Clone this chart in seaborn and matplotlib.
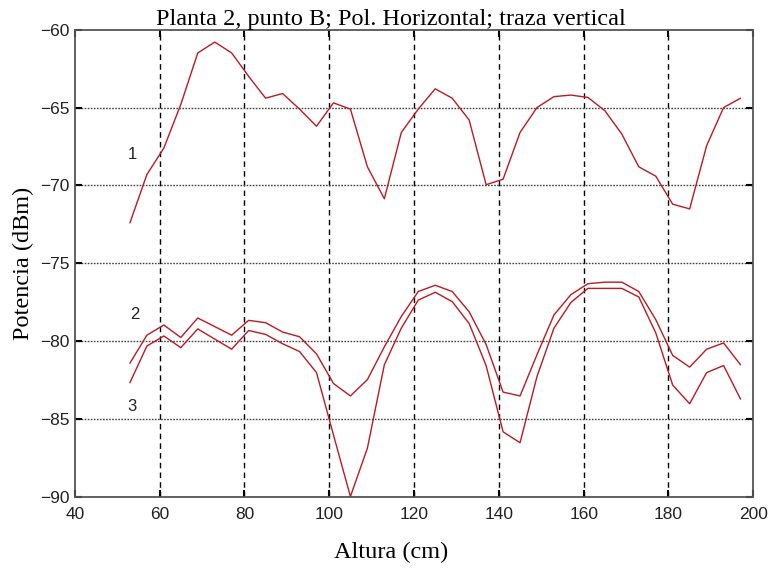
import numpy as np
import pandas as pd
import matplotlib
matplotlib.use("Agg")
import matplotlib.pyplot as plt
import seaborn as sns

# altura (cm)
altura = list(range(53, 198, 4))

traza_1 = [-72.4, -69.3, -67.6, -64.8, -61.5, -60.8, -61.5, -63.0, -64.4, -64.1,
           -65.1, -66.2, -64.7, -65.1, -68.8, -70.85, -66.6, -65.1, -63.8, -64.4,
           -65.8, -69.95, -69.6, -66.6, -65.0, -64.3, -64.2, -64.35, -65.2, -66.7,
           -68.8, -69.4, -71.2, -71.5, -67.45, -65.0, -64.4]

traza_2 = [-81.4, -79.6, -78.95, -79.75, -78.5, -79.05, -79.6, -78.65, -78.8, -79.4,
           -79.7, -80.8, -82.7, -83.5, -82.45, -80.35, -78.4, -76.8, -76.4, -76.8,
           -78.1, -80.2, -83.25, -83.5, -80.85, -78.3, -77.0, -76.3, -76.2, -76.2,
           -76.8, -78.6, -80.9, -81.65, -80.5, -80.1, -81.5]

traza_3 = [-82.65, -80.3, -79.65, -80.4, -79.2, -79.85, -80.5, -79.3, -79.55, -80.15,
           -80.65, -82.0, -86.0, -89.95, -86.85, -81.5, -79.15, -77.35, -76.85, -77.45,
           -78.85, -81.55, -85.8, -86.5, -82.25, -79.15, -77.5, -76.6, -76.6, -76.6,
           -77.15, -79.45, -82.8, -84.0, -82.0, -81.55, -83.7]

etiquetas = ["1", "2", "3"]
etiqueta_pos = [(53.5, -68.0), (54.2, -78.3), (53.5, -84.2)]

df = pd.DataFrame({
    "Altura": altura * 3,
    "Potencia": traza_1 + traza_2 + traza_3,
    "Traza": ["1"] * len(altura) + ["2"] * len(altura) + ["3"] * len(altura),
})

sns.set_style("ticks")
plt.rcParams["font.family"] = ["Liberation Sans", "DejaVu Sans"]

fig = plt.figure(figsize=(7.71, 5.69), dpi=100)
ax = fig.add_axes([0.097, 0.126, 0.88, 0.822])

linea = "#bb1a22"
sns.lineplot(data=df, x="Altura", y="Potencia", units="Traza", estimator=None,
             color=linea, lw=1.0, ax=ax, legend=False)

ax.set_xlim(40, 200)
ax.set_ylim(-90, -60)
ax.set_xticks(np.arange(40, 201, 20))
ax.set_yticks(np.arange(-90, -59, 5))
ax.set_yticklabels([f"\u2212{abs(v)}" for v in range(-90, -59, 5)])

for x in range(60, 200, 20):
    ax.axvline(x, color="black", lw=1.0, ls=(0, (4, 3)), zorder=0)
for y in range(-85, -60, 5):
    ax.axhline(y, color="#444444", lw=1.0, ls=(0, (1.2, 1.0)), zorder=0)

for s in ax.spines.values():
    s.set_color("#555555")
    s.set_linewidth(1.3)

ax.tick_params(direction="in", length=5, width=1.5, color="black",
               top=True, right=True, labelsize=12.5, labelcolor="#222222")
ax.tick_params(axis="x", pad=7)
ax.tick_params(axis="y", pad=4)

for txt, (x, y) in zip(etiquetas, etiqueta_pos):
    ax.text(x, y, txt, fontsize=12, color="#222222", ha="center", va="center")

serif = ["Liberation Serif", "DejaVu Serif"]
ax.set_title("Planta 2, punto B; Pol. Horizontal; traza vertical",
             family=serif, fontsize=17.5, pad=3, color="black", x=0.466)
ax.set_xlabel("Altura (cm)", family=serif, fontsize=17.5, labelpad=14, color="black")
ax.xaxis.label.set_x(0.466)
ax.set_ylabel("Potencia (dBm)", family=serif, fontsize=17.5, labelpad=4, color="black")

fig.savefig("out.png", dpi=100)
